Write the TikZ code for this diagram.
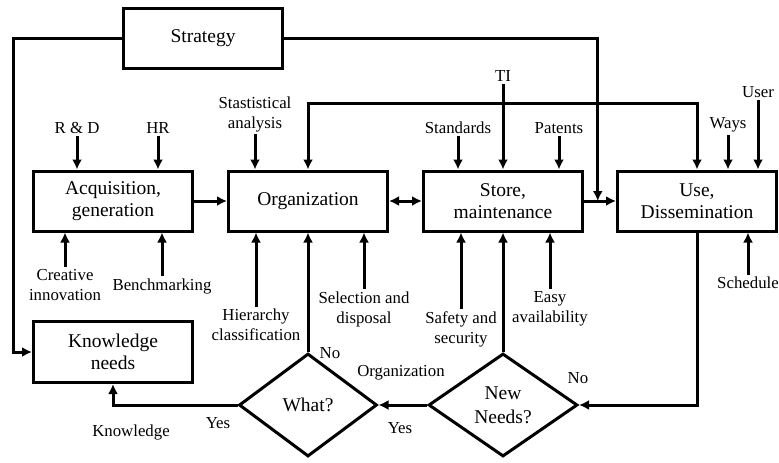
\documentclass[tikz,border=0pt]{standalone}
\usepackage{fontspec}
\setmainfont{Liberation Serif}
\usetikzlibrary{shapes.geometric,arrows.meta,calc,positioning}

\tikzset{
  block/.style={draw, line width=3pt, minimum width=159pt, minimum height=60pt,
    align=center, font=\fontsize{19.5}{21.5}\selectfont},
  decision/.style={draw, diamond, line width=3pt, inner sep=0pt, minimum height=103pt,
    align=center, font=\fontsize{19.5}{23.5}\selectfont},
  lbl/.style={align=center, inner sep=2pt, font=\fontsize{16.8}{20}\selectfont},
  conn/.style={line width=3pt, ->},
}

\begin{document}
\begin{tikzpicture}[x=1pt, y=-1pt, >={Latex[length=10pt,width=10pt]}]
    \useasboundingbox (0,0) rectangle (779,463);

    % Main boxes
    \node[block] (strat) at (203,38) {Strategy};
    \node[block] (acq) at (113,201) {Acquisition,\\generation};
    \node[block] (org) at (308,201) {Organization};
    \node[block] (store) at (503,201) {Store,\\maintenance};
    \node[block] (use) at (697,201) {Use,\\Dissemination};
    \node[block, minimum height=61pt] (kn) at (113,352) {Knowledge\\needs};

    % Decisions
    \node[decision, minimum width=138pt] (what) at (308,405) {What?};
    \node[decision, minimum width=149pt] (nn) at (503,405) {New\\Needs?};

    % Inputs from above
    \node[lbl] (rd) at (77,128) {R \& D};
    \node[lbl] (hr) at (158,128) {HR};
    \node[lbl] (stat) at (255,114) {Stastistical\\analysis};
    \node[lbl] (ti) at (503,76) {TI};
    \node[lbl] (std) at (458,128) {Standards};
    \node[lbl] (pat) at (559,128) {Patents};
    \node[lbl] (ways) at (728,125) {Ways};
    \node[lbl] (user) at (758,92) {User};

    % Inputs from below
    \node[lbl] (ci) at (65,285) {Creative\\innovation};
    \node[lbl] (bench) at (162,286) {Benchmarking};
    \node[lbl] (hier) at (256,325) {Hierarchy\\classification};
    \node[lbl] (sel) at (364,309) {Selection and\\disposal};
    \node[lbl] (safe) at (461,329) {Safety and\\security};
    \node[lbl] (easy) at (550,309) {Easy\\availability};
    \node[lbl] (sched) at (748,283) {Schedule};

    % Edge labels
    \node[lbl] (l-org) at (401,373) {Organization};
    \node[lbl] (l-yes1) at (400,428) {Yes};
    \node[lbl] (l-yes2) at (218,423) {Yes};
    \node[lbl] (l-know) at (131,432) {Knowledge};
    \node[lbl] (l-no1) at (330,353) {No};
    \node[lbl] (l-no2) at (578,378) {No};

    % Main flow
    \draw[conn] (acq) -- (org);
    \draw[conn, <->] (org) -- (store);
    \draw[conn] (store) -- (use);
    \coordinate (mid) at ($(store.east)!0.43!(use.west)$);
    \draw[conn] (strat.east) -| (mid);
    \draw[conn] (strat.west) -| ([xshift=-19pt]kn.west) -- (kn.west);
    \draw[conn, <->] (org.north) -- ++(0,-66) -| (use.north);

    % Top arrows
    \draw[conn] (rd.south) -- (rd.south |- acq.north);
    \draw[conn] (hr.south) -- (hr.south |- acq.north);
    \draw[conn] (stat.south) -- (stat.south |- org.north);
    \draw[conn] (ti.south) -- (ti.south |- store.north);
    \draw[conn] (std.south) -- (std.south |- store.north);
    \draw[conn] (pat.south) -- (pat.south |- store.north);
    \draw[conn] (ways.south) -- (ways.south |- use.north);
    \draw[conn] (user.south) -- (user.south |- use.north);

    % Bottom arrows
    \draw[conn] (ci.north) -- (ci.north |- acq.south);
    \draw[conn] (bench.north) -- (bench.north |- acq.south);
    \draw[conn] (hier.north) -- (hier.north |- org.south);
    \draw[conn] (sel.north) -- (sel.north |- org.south);
    \draw[conn] (safe.north) -- (safe.north |- store.south);
    \draw[conn] (easy.north) -- (easy.north |- store.south);
    \draw[conn] (sched.north) -- (sched.north |- use.south);

    % Decision loop
    \draw[conn] (use.south) |- (nn.east);
    \draw[conn] (nn.north) -- (nn.north |- store.south);
    \draw[conn] (nn.west) -- (what.east);
    \draw[conn] (what.north) -- (what.north |- org.south);
    \draw[conn] (what.west) -| (kn.south);
\end{tikzpicture}
\end{document}
